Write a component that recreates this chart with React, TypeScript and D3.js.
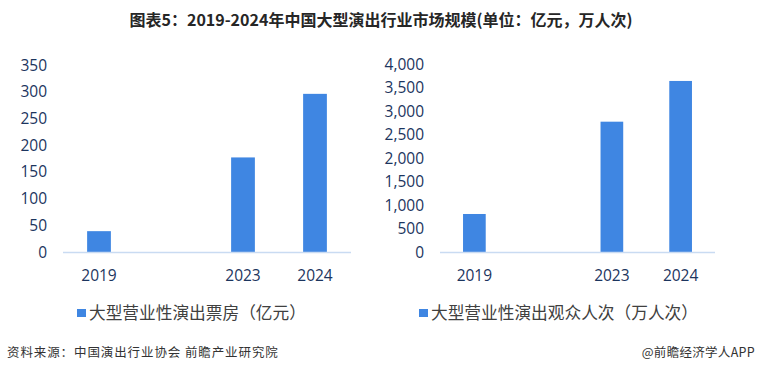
import React from "react";
import * as d3 from "d3";

const categories = ["2019", "", "2023", "2024"];
const boxOffice = [39, null, 177, 296];
const audience = [810, null, 2777, 3645];
const leftTicks = [0, 50, 100, 150, 200, 250, 300, 350];
const rightTicks = [0, 500, 1000, 1500, 2000, 2500, 3000, 3500, 4000];
const title = "图表5：2019-2024年中国大型演出行业市场规模(单位：亿元，万人次)";
const leftLegend = "大型营业性演出票房（亿元）";
const rightLegend = "大型营业性演出观众人次（万人次）";
const source = "资料来源：中国演出行业协会 前瞻产业研究院";
const credit = "@前瞻经济学人APP";

const BAR = "#3f86e2";
const AXIS = "#c9dbf2";
const TICK = "#1c355e";
const FONT = "'Noto Sans CJK SC', 'Noto Sans', sans-serif";

type PanelProps = {
  values: (number | null)[];
  ticks: number[];
  max: number;
  x0: number;
  x1: number;
  labelRight: number;
  yTop: number;
  fmt: (v: number) => string;
};

function Panel({ values, ticks, max, x0, x1, labelRight, yTop, fmt }: PanelProps) {
  const y = d3.scaleLinear().domain([0, max]).range([252, yTop]);
  const x = d3.scaleBand().domain(categories).range([x0, x1]).padding(0);
  const bw = x.bandwidth() * 0.33;
  return (
    <g>
      {ticks.map((t) => (
        <text
          key={t}
          x={labelRight}
          y={y(t)}
          dy="0.36em"
          textAnchor="end"
          fontSize={15.5}
          fill={TICK}
          fontFamily="'Open Sans', 'Noto Sans', sans-serif"
        >
          {fmt(t)}
        </text>
      ))}
      {values.map((v, i) =>
        v == null ? null : (
          <rect
            key={i}
            x={(x(categories[i]) as number) + x.bandwidth() / 2 - bw / 2}
            y={y(v)}
            width={bw}
            height={y(0) - y(v)}
            fill={BAR}
          />
        )
      )}
      <line x1={x0} x2={x1} y1={y(0) + 0.5} y2={y(0) + 0.5} stroke={AXIS} strokeWidth={1.5} />
      {categories.map((c) =>
        c ? (
          <text
            key={c}
            x={(x(c) as number) + x.bandwidth() / 2}
            y={275}
            dy="0.36em"
            textAnchor="middle"
            fontSize={15.5}
            fill={TICK}
            fontFamily="'Open Sans', 'Noto Sans', sans-serif"
          >
            {c}
          </text>
        ) : null
      )}
    </g>
  );
}

export default function App() {
  const fmtL = (v: number) => String(v);
  const fmtR = d3.format(",");
  return (
    <svg width={760} height={371} style={{ position: "absolute", left: 0, top: 0, background: "#fff" }}>
      <rect width={760} height={371} fill="#fff" />
      <text
        x={381}
        y={20}
        dy="0.36em"
        textAnchor="middle"
        fontSize={16}
        fontWeight="bold"
        fill="#262626"
        fontFamily={FONT}
      >
        {title}
      </text>
      <Panel values={boxOffice} ticks={leftTicks} max={350} x0={63} x1={351} labelRight={47} yTop={65} fmt={fmtL} />
      <Panel values={audience} ticks={rightTicks} max={4000} x0={440} x1={715} labelRight={424} yTop={64.3} fmt={fmtR} />
      <rect x={77} y={309} width={9} height={8} fill={BAR} />
      <text x={89} y={313} dy="0.36em" fontSize={16.7} fill="#404040" fontFamily={FONT}>
        {leftLegend}
      </text>
      <rect x={419} y={309} width={9} height={8} fill={BAR} />
      <text x={431} y={313} dy="0.36em" fontSize={16.7} fill="#404040" fontFamily={FONT}>
        {rightLegend}
      </text>
      <text x={7} y={352} dy="0.36em" fontSize={12.5} letterSpacing={0.9} fill="#333" fontFamily={FONT}>
        {source}
      </text>
      <text x={755} y={352} dy="0.36em" textAnchor="end" fontSize={12.5} letterSpacing={0.3} fill="#333" fontFamily={FONT}>
        {credit}
      </text>
    </svg>
  );
}
